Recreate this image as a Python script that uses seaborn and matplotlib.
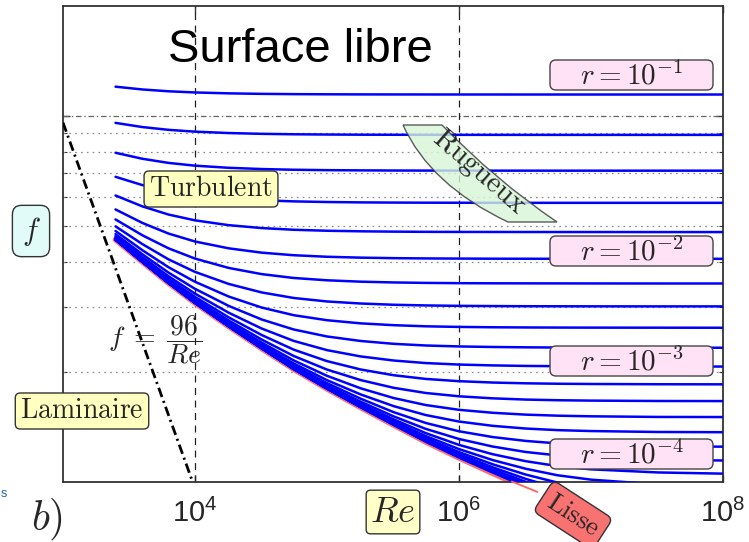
import pandas as pd
import matplotlib
matplotlib.use("Agg")
import matplotlib.pyplot as plt
import seaborn as sns
from matplotlib.patches import FancyBboxPatch, PathPatch
from matplotlib.path import Path
from matplotlib.transforms import IdentityTransform

# Reynolds numbers at which the curves were read
re_values = [2500, 4000, 6300, 1.0e4, 1.8e4, 3.2e4, 5.6e4, 1.0e5, 1.8e5, 3.2e5,
             5.6e5, 1.0e6, 1.8e6, 3.2e6, 5.6e6, 1.0e7, 3.2e7, 1.0e8]

# friction factor f for relative roughness r = 10^-1.0, 10^-1.2, ... 10^-6.0
f_r1_0 = [0.12037, 0.11827, 0.11693, 0.11607, 0.11542, 0.11505, 0.11485, 0.11473, 0.11466, 0.11463, 0.11461, 0.11459, 0.11459, 0.11458, 0.11458, 0.11458, 0.11458, 0.11458]
f_r1_2 = [0.09584, 0.09335, 0.09174, 0.09070, 0.08991, 0.08946, 0.08921, 0.08907, 0.08898, 0.08894, 0.08891, 0.08890, 0.08889, 0.08889, 0.08888, 0.08888, 0.08888, 0.08888]
f_r1_4 = [0.07941, 0.07646, 0.07450, 0.07322, 0.07224, 0.07168, 0.07136, 0.07118, 0.07108, 0.07102, 0.07099, 0.07097, 0.07096, 0.07096, 0.07095, 0.07095, 0.07095, 0.07095]
f_r1_6 = [0.06826, 0.06478, 0.06241, 0.06083, 0.05960, 0.05888, 0.05848, 0.05825, 0.05811, 0.05804, 0.05800, 0.05798, 0.05796, 0.05795, 0.05795, 0.05795, 0.05795, 0.05795]
f_r1_8 = [0.06069, 0.05666, 0.05383, 0.05190, 0.05035, 0.04944, 0.04891, 0.04861, 0.04844, 0.04834, 0.04828, 0.04825, 0.04824, 0.04823, 0.04822, 0.04822, 0.04821, 0.04821]
f_r2_0 = [0.05558, 0.05105, 0.04776, 0.04543, 0.04352, 0.04235, 0.04167, 0.04127, 0.04104, 0.04091, 0.04084, 0.04080, 0.04077, 0.04076, 0.04075, 0.04075, 0.04074, 0.04074]
f_r2_2 = [0.05219, 0.04723, 0.04352, 0.04080, 0.03847, 0.03700, 0.03611, 0.03559, 0.03528, 0.03511, 0.03501, 0.03495, 0.03492, 0.03491, 0.03490, 0.03489, 0.03488, 0.03488]
f_r2_4 = [0.04997, 0.04468, 0.04060, 0.03752, 0.03478, 0.03297, 0.03184, 0.03115, 0.03075, 0.03051, 0.03038, 0.03030, 0.03026, 0.03023, 0.03022, 0.03021, 0.03020, 0.03020]
f_r2_6 = [0.04853, 0.04299, 0.03864, 0.03526, 0.03213, 0.02998, 0.02857, 0.02768, 0.02714, 0.02683, 0.02664, 0.02654, 0.02648, 0.02645, 0.02643, 0.02642, 0.02641, 0.02640]
f_r2_8 = [0.04760, 0.04190, 0.03735, 0.03373, 0.03029, 0.02781, 0.02611, 0.02499, 0.02429, 0.02386, 0.02361, 0.02347, 0.02339, 0.02334, 0.02331, 0.02330, 0.02328, 0.02328]
f_r3_0 = [0.04701, 0.04119, 0.03650, 0.03272, 0.02902, 0.02627, 0.02430, 0.02293, 0.02204, 0.02148, 0.02114, 0.02094, 0.02083, 0.02076, 0.02073, 0.02070, 0.02069, 0.02068]
f_r3_2 = [0.04663, 0.04074, 0.03596, 0.03206, 0.02818, 0.02522, 0.02300, 0.02140, 0.02030, 0.01958, 0.01913, 0.01886, 0.01870, 0.01861, 0.01856, 0.01853, 0.01850, 0.01849]
f_r3_4 = [0.04640, 0.04046, 0.03561, 0.03163, 0.02763, 0.02451, 0.02210, 0.02029, 0.01899, 0.01809, 0.01751, 0.01715, 0.01693, 0.01680, 0.01673, 0.01669, 0.01665, 0.01664]
f_r3_6 = [0.04624, 0.04028, 0.03539, 0.03136, 0.02727, 0.02404, 0.02149, 0.01951, 0.01803, 0.01696, 0.01623, 0.01575, 0.01546, 0.01528, 0.01518, 0.01512, 0.01506, 0.01505]
f_r3_8 = [0.04615, 0.04016, 0.03525, 0.03118, 0.02704, 0.02373, 0.02108, 0.01898, 0.01735, 0.01612, 0.01524, 0.01463, 0.01424, 0.01400, 0.01386, 0.01378, 0.01370, 0.01368]
f_r4_0 = [0.04609, 0.04009, 0.03516, 0.03107, 0.02690, 0.02354, 0.02082, 0.01863, 0.01689, 0.01552, 0.01450, 0.01376, 0.01327, 0.01295, 0.01275, 0.01263, 0.01252, 0.01249]
f_r4_2 = [0.04605, 0.04004, 0.03510, 0.03100, 0.02680, 0.02341, 0.02065, 0.01840, 0.01657, 0.01511, 0.01397, 0.01311, 0.01250, 0.01208, 0.01182, 0.01165, 0.01150, 0.01145]
f_r4_4 = [0.04603, 0.04001, 0.03507, 0.03096, 0.02675, 0.02333, 0.02054, 0.01825, 0.01637, 0.01483, 0.01360, 0.01263, 0.01191, 0.01140, 0.01105, 0.01083, 0.01062, 0.01054]
f_r4_6 = [0.04601, 0.03999, 0.03504, 0.03093, 0.02671, 0.02328, 0.02047, 0.01816, 0.01624, 0.01465, 0.01335, 0.01230, 0.01148, 0.01087, 0.01043, 0.01015, 0.00985, 0.00975]
f_r4_8 = [0.04600, 0.03998, 0.03503, 0.03091, 0.02668, 0.02325, 0.02043, 0.01810, 0.01615, 0.01453, 0.01318, 0.01207, 0.01118, 0.01048, 0.00996, 0.00959, 0.00920, 0.00905]
f_r5_0 = [0.04600, 0.03998, 0.03502, 0.03090, 0.02667, 0.02323, 0.02040, 0.01806, 0.01610, 0.01445, 0.01307, 0.01192, 0.01097, 0.01020, 0.00960, 0.00916, 0.00864, 0.00844]
f_r5_2 = [0.04599, 0.03997, 0.03502, 0.03089, 0.02666, 0.02322, 0.02038, 0.01803, 0.01606, 0.01440, 0.01300, 0.01182, 0.01083, 0.01001, 0.00934, 0.00883, 0.00819, 0.00791]
f_r5_4 = [0.04599, 0.03997, 0.03501, 0.03089, 0.02665, 0.02321, 0.02037, 0.01802, 0.01604, 0.01437, 0.01296, 0.01176, 0.01074, 0.00988, 0.00917, 0.00859, 0.00782, 0.00745]
f_r5_6 = [0.04599, 0.03997, 0.03501, 0.03089, 0.02665, 0.02320, 0.02037, 0.01801, 0.01603, 0.01435, 0.01293, 0.01172, 0.01068, 0.00979, 0.00905, 0.00843, 0.00754, 0.00707]
f_r5_8 = [0.04599, 0.03997, 0.03501, 0.03089, 0.02665, 0.02320, 0.02036, 0.01800, 0.01602, 0.01434, 0.01291, 0.01169, 0.01064, 0.00974, 0.00897, 0.00831, 0.00734, 0.00676]
f_r6_0 = [0.04599, 0.03996, 0.03501, 0.03088, 0.02665, 0.02320, 0.02036, 0.01800, 0.01601, 0.01433, 0.01290, 0.01167, 0.01062, 0.00970, 0.00891, 0.00824, 0.00719, 0.00652]
# smooth pipe ("Lisse")
f_smooth = [0.04599, 0.03996, 0.03501, 0.03088, 0.02664, 0.02319, 0.02035, 0.01799, 0.01600, 0.01432, 0.01288, 0.01165, 0.01057, 0.00964, 0.00882, 0.00810, 0.00690, 0.00594]

# laminar branch f = 96/Re
re_laminar = [1000, 9600]
f_laminar = [0.096, 0.0100]

roughness_labels = [r'$r = 10^{-1}$', r'$r = 10^{-2}$', r'$r = 10^{-3}$', r'$r = 10^{-4}$']
x_tick_labels = [r'$\mathregular{10^{4}}$', r'$\mathregular{10^{6}}$', r'$\mathregular{10^{8}}$']

rough = [f_r1_0, f_r1_2, f_r1_4, f_r1_6, f_r1_8, f_r2_0, f_r2_2, f_r2_4, f_r2_6, f_r2_8,
         f_r3_0, f_r3_2, f_r3_4, f_r3_6, f_r3_8, f_r4_0, f_r4_2, f_r4_4, f_r4_6, f_r4_8,
         f_r5_0, f_r5_2, f_r5_4, f_r5_6, f_r5_8, f_r6_0]

sns.set_theme(style="white")
plt.rcParams['font.family'] = ['Liberation Sans', 'DejaVu Sans']
plt.rcParams['mathtext.fontset'] = 'cm'
plt.rcParams['lines.scale_dashes'] = False

W, H = 749, 542
fig = plt.figure(figsize=(W/100, H/100), dpi=100)
ax = fig.add_axes([63/W, 1-482/H, 660/W, 476/H])
def P(x, y): return (x/W, 1-y/H)

df = pd.DataFrame([(i, R, f) for i, row in enumerate(rough) for R, f in zip(re_values, row)],
                  columns=['curve', 'Re', 'f'])
dfs = pd.DataFrame({'Re': re_values, 'f': f_smooth})

ax.set_xscale('log'); ax.set_yscale('log')
for v in [0.02, 0.03, 0.04, 0.05, 0.06, 0.07, 0.08, 0.09]:
    ax.axhline(v, color='#8a8a8a', lw=0.9, dashes=(1.2, 3), zorder=1)
ax.axhline(0.1, color='#666666', lw=0.9, dashes=(4, 2, 1, 2), zorder=1)
for v in [1e4, 1e6]:
    ax.axvline(v, color='#222222', lw=0.9, dashes=(5, 4), zorder=1)

sns.lineplot(data=dfs, x='Re', y='f', color='#ff6b6b', lw=4.2, ax=ax, zorder=2)
sns.lineplot(data=df, x='Re', y='f', units='curve', estimator=None, color='#0000ff', lw=1.8,
             ax=ax, legend=False, zorder=3)
sns.lineplot(x=re_laminar, y=f_laminar, color='black', lw=2.0, ax=ax, zorder=4)
ax.lines[-1].set_dashes((7, 3, 1.5, 3))

ax.set_xlim(1e3, 1e8); ax.set_ylim(0.01, 0.2)
ax.set_xlabel(''); ax.set_ylabel('')
ax.set_xticks([1e4, 1e6, 1e8])
ax.set_xticklabels(x_tick_labels, fontsize=21)
ax.set_xticks([], minor=True)
ax.set_yticks([0.1]); ax.set_yticks([0.02, 0.03, 0.04, 0.05, 0.06, 0.07, 0.08, 0.09], minor=True)
ax.tick_params(which='both', direction='in', left=True, right=True, bottom=True, top=True,
               labelleft=False, color='#333333')
ax.tick_params(which='major', length=5, width=1, pad=12)
ax.tick_params(which='minor', length=3, width=0.8)
for s in ax.spines.values():
    s.set_color('#333333'); s.set_linewidth(1.3)

fig.text(*P(300, 62), 'Surface libre', ha='center', va='baseline', fontsize=34, color='black')
fig.text(*P(47, 530), r'$b)$', ha='center', va='baseline', fontsize=30)
fig.text(*P(393, 512), r'$Re$', ha='center', va='center', fontsize=26,
         bbox=dict(boxstyle='round,pad=0.12', fc='#ffffc8', ec='#333333', lw=1))
fig.text(*P(31, 231), r'$f$', ha='center', va='center', fontsize=22,
         bbox=dict(boxstyle='round,pad=0.3', fc='#e0fbf8', ec='#333333', lw=1))
yb = dict(boxstyle='round,pad=0.18', fc='#ffffc0', ec='#333333', lw=1)
fig.text(*P(211, 189), r'$\mathrm{Turbulent}$', ha='center', va='center', fontsize=20, bbox=yb)
fig.text(*P(82, 411), r'$\mathrm{Laminaire}$', ha='center', va='center', fontsize=20, bbox=yb)
fig.text(*P(155, 340), r'$f\;=\;\dfrac{96}{Re}$', ha='center', va='center', fontsize=20)

for yc, lab in zip([75, 251, 361, 454], roughness_labels):
    p = FancyBboxPatch((550, H-yc-15), 163, 30, boxstyle='round,pad=0,rounding_size=6',
                       fc='#ffe2f5', ec='#444444', lw=1, transform=IdentityTransform(), zorder=5)
    fig.add_artist(p)
    fig.text(*P(632, yc+1), lab, ha='center', va='center', fontsize=21, zorder=6)

verts = [(403, 125), (442, 125), (495, 180), (557, 222), (508, 222), (430, 185), (403, 125)]
codes = [Path.MOVETO, Path.LINETO, Path.CURVE3, Path.CURVE3, Path.LINETO, Path.CURVE3, Path.CURVE3]
path = Path([(x, H-y) for x, y in verts], codes)
fig.add_artist(PathPatch(path, fc='#d8f5d8', ec='#333333', lw=1, alpha=0.8,
                         transform=IdentityTransform(), zorder=5))
fig.text(*P(479, 172), r'$\mathrm{Rugueux}$', ha='center', va='center', fontsize=21, rotation=-41, zorder=6)

ax.annotate('', xy=(2.4e6, 0.0101), xytext=P(540, 493), textcoords='figure fraction',
            arrowprops=dict(arrowstyle='-', color='#ff6060', lw=1.3), annotation_clip=False)
fig.text(*P(573, 515), r'$\mathrm{Lisse}$', ha='center', va='center', fontsize=19, rotation=-33,
         bbox=dict(boxstyle='round,pad=0.25', fc='#f87272', ec='#333333', lw=1))
fig.text(0.001, 1-494/H, 's', color='#1a5fb4', fontsize=9, va='center')

fig.savefig('out.png', dpi=100)
